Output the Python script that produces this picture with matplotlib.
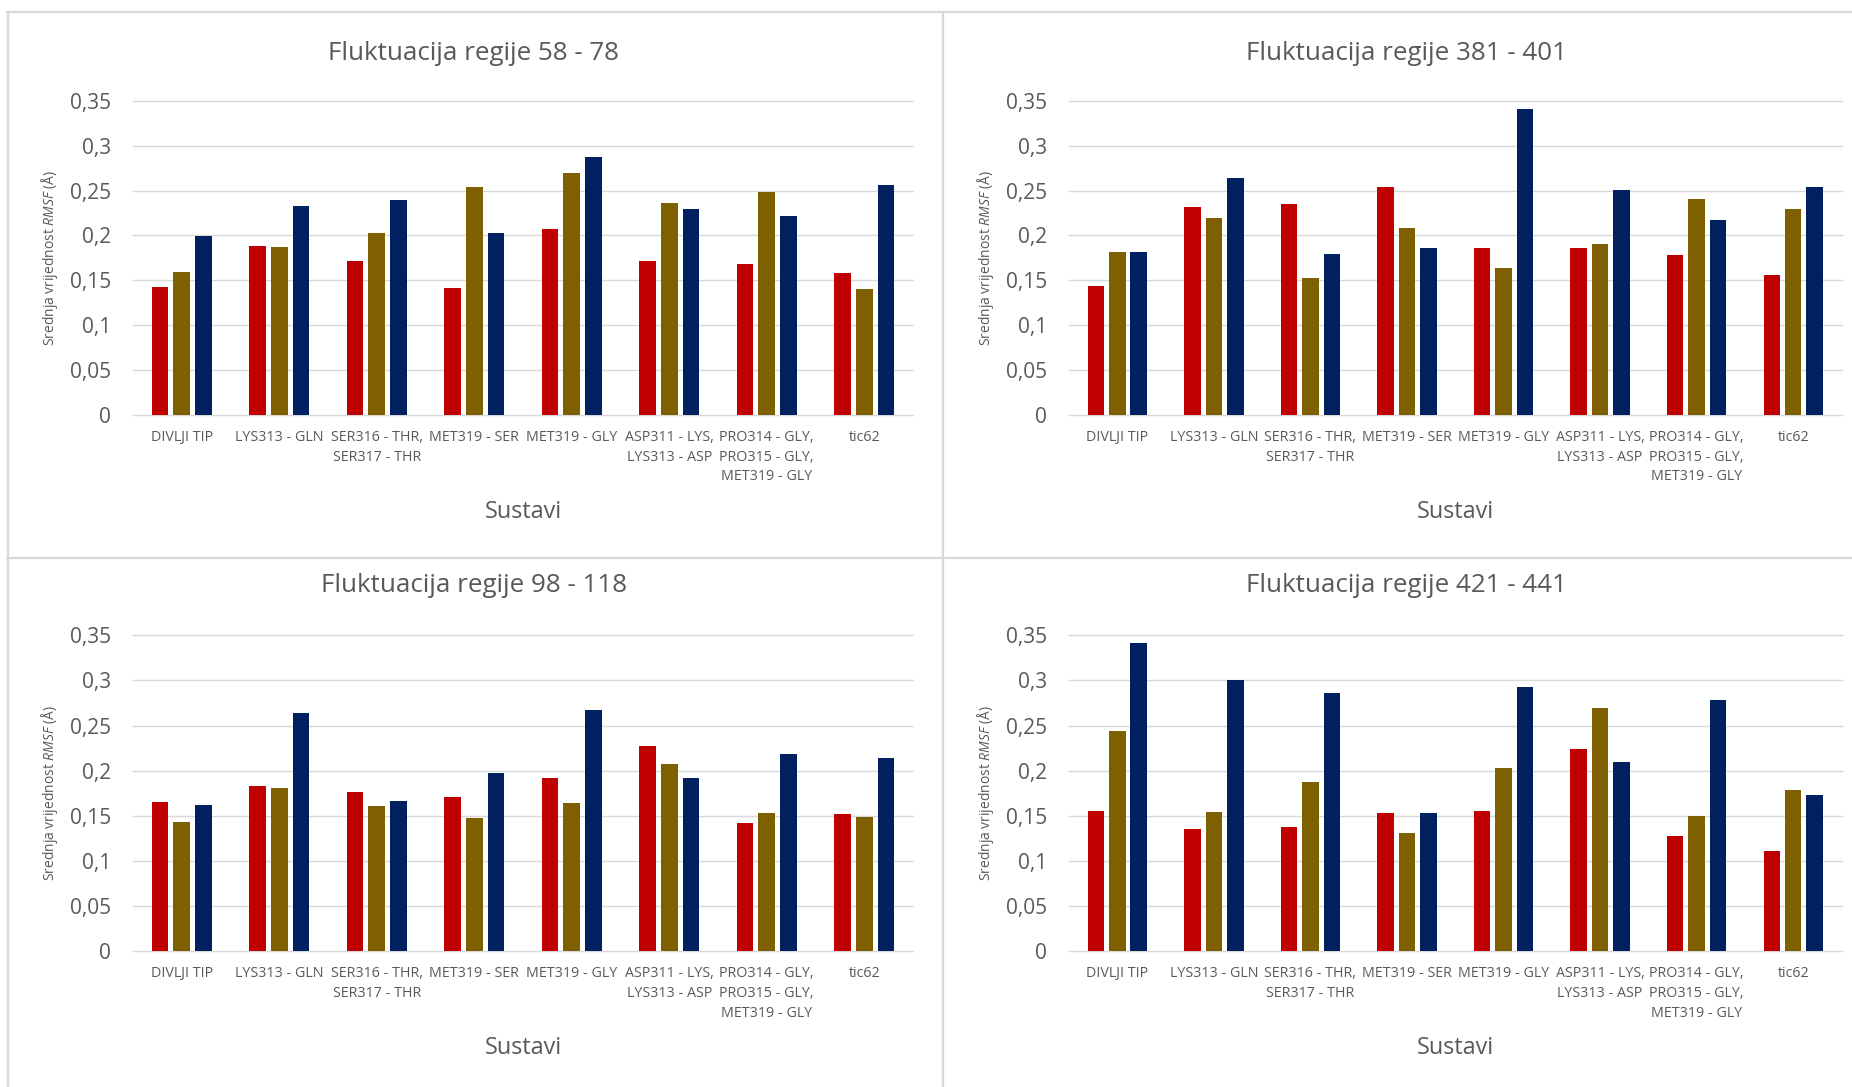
import matplotlib
matplotlib.use('Agg')
import matplotlib.pyplot as plt
from matplotlib.lines import Line2D
import numpy as np

plt.rcParams['font.family'] = ['Open Sans', 'DejaVu Sans']
plt.rcParams['mathtext.fontset'] = 'custom'
plt.rcParams['mathtext.rm'] = 'Open Sans'
plt.rcParams['mathtext.it'] = 'Open Sans:italic'

W, H = 1852, 1087
TXT = '#595959'
GRID = '#D9D9D9'
COLORS = ['#C00000', '#7F6000', '#002060']

categories = ['DIVLJI TIP', 'LYS313 - GLN', 'SER316 - THR,\nSER317 - THR', 'MET319 - SER',
              'MET319 - GLY', 'ASP311 - LYS,\nLYS313 - ASP',
              'PRO314 - GLY,\nPRO315 - GLY,\nMET319 - GLY', 'tic62']
yticks = [0, 0.05, 0.1, 0.15, 0.2, 0.25, 0.3, 0.35]
ytick_labels = ['0', '0,05', '0,1', '0,15', '0,2', '0,25', '0,3', '0,35']

# region 58 - 78
r58_red = [0.143, 0.188, 0.172, 0.142, 0.207, 0.172, 0.168, 0.158]
r58_gold = [0.159, 0.187, 0.203, 0.254, 0.270, 0.236, 0.248, 0.140]
r58_blue = [0.199, 0.233, 0.240, 0.203, 0.287, 0.229, 0.222, 0.256]
# region 381 - 401
r381_red = [0.144, 0.232, 0.235, 0.254, 0.186, 0.186, 0.178, 0.156]
r381_gold = [0.182, 0.220, 0.153, 0.208, 0.164, 0.190, 0.241, 0.229]
r381_blue = [0.182, 0.264, 0.179, 0.186, 0.341, 0.251, 0.217, 0.254]
# region 98 - 118
r98_red = [0.165, 0.183, 0.176, 0.171, 0.192, 0.227, 0.142, 0.152]
r98_gold = [0.143, 0.181, 0.161, 0.148, 0.164, 0.208, 0.153, 0.149]
r98_blue = [0.162, 0.264, 0.167, 0.198, 0.267, 0.192, 0.219, 0.214]
# region 421 - 441
r421_red = [0.156, 0.136, 0.138, 0.153, 0.155, 0.224, 0.128, 0.111]
r421_gold = [0.244, 0.154, 0.188, 0.131, 0.203, 0.270, 0.150, 0.179]
r421_blue = [0.342, 0.300, 0.286, 0.153, 0.293, 0.210, 0.278, 0.173]

panels = [
    ('Fluktuacija regije 58 - 78', [r58_red, r58_gold, r58_blue], (133, 913, 100.8, 415), 53.5),
    ('Fluktuacija regije 381 - 401', [r381_red, r381_gold, r381_blue], (1069, 1841.5, 100.8, 415), 53.5),
    ('Fluktuacija regije 98 - 118', [r98_red, r98_gold, r98_blue], (133, 913, 635.3, 951.4), 586),
    ('Fluktuacija regije 421 - 441', [r421_red, r421_gold, r421_blue], (1069, 1841.5, 635.3, 951.4), 586),
]

fig = plt.figure(figsize=(W / 100, H / 100), dpi=100)
fig.patch.set_facecolor('white')

# panel borders
def hline(y, x0, x1):
    fig.add_artist(Line2D([x0 / W, x1 / W], [1 - y / H, 1 - y / H], color=GRID, lw=1.6))
def vline(x, y0, y1):
    fig.add_artist(Line2D([x / W, x / W], [1 - y0 / H, 1 - y1 / H], color=GRID, lw=1.6))
hline(12, 7, W)
hline(558, 7, W)
vline(7.5, 12, H)
vline(942.7, 12, H)

x = np.arange(len(categories))
width = 0.171
step = 0.222

for title, series, (l, r, t, b), ty in panels:
    ax = fig.add_axes([l / W, 1 - b / H, (r - l) / W, (b - t) / H])
    for i, vals in enumerate(series):
        ax.bar(x + (i - 1) * step, vals, width, color=COLORS[i], zorder=3)
    ax.set_xlim(-0.5, len(categories) - 0.5)
    ax.set_ylim(0, 0.35)
    ax.set_yticks(yticks)
    ax.set_yticklabels(ytick_labels)
    ax.set_xticks(x)
    ax.set_xticklabels(categories, fontsize=10.3, color=TXT, linespacing=1.45, va='top')
    ax.tick_params(axis='y', length=0, pad=16, labelsize=15, labelcolor=TXT)
    ax.tick_params(axis='x', length=0, pad=10.5)
    for s in ax.spines.values():
        s.set_visible(False)
    ax.grid(axis='y', color=GRID, lw=1.0, zorder=0)
    for gl in ax.get_ygridlines():
        gl.set_clip_on(False)
    ax.set_axisbelow(True)
    cx = (l + r) / 2
    fig.text((cx - 49) / W, 1 - ty / H, title, ha='center', va='center', fontsize=18.7, color=TXT)
    fig.text(cx / W, 1 - (b + 97) / H, 'Sustavi', ha='center', va='center', fontsize=16.8, color=TXT)
    fig.text((l - 83) / W, 1 - ((t + b) / 2) / H, r'Srednja vrijednost $\mathit{RMSF}$ (Å)',
             rotation=90, ha='center', va='center', fontsize=10, color=TXT)

fig.savefig('out.png', dpi=100, facecolor='white')
